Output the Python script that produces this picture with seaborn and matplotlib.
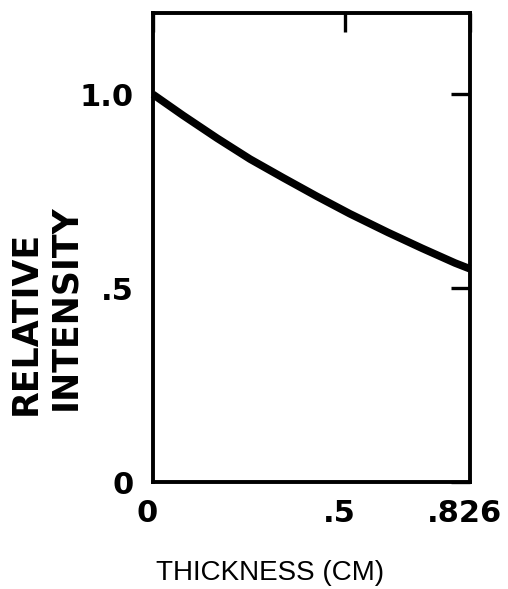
import matplotlib
matplotlib.use("Agg")
import matplotlib.pyplot as plt
import matplotlib.transforms as mtransforms
import seaborn as sns
import pandas as pd

# Transmitted intensity through the absorber versus its thickness
thickness_cm = [0.0, 0.078, 0.167, 0.253, 0.339, 0.427, 0.513, 0.612, 0.701, 0.787, 0.818, 0.826]
relative_intensity = [1.0, 0.946, 0.887, 0.833, 0.785, 0.737, 0.692, 0.644, 0.603, 0.565, 0.553, 0.550]

x_ticks = [0.0, 0.5, 0.826]
x_tick_labels = ["0", ".5", ".826"]
y_ticks = [0.0, 0.5, 1.0]
y_tick_labels = ["0", ".5", "1.0"]

sns.set_style("white")
plt.rcParams["font.family"] = ["Liberation Sans", "DejaVu Sans"]
plt.rcParams["text.color"] = "black"

df = pd.DataFrame({"thickness": thickness_cm, "intensity": relative_intensity})

fig = plt.figure(figsize=(5.08, 5.89), dpi=100)
ax = fig.add_axes([153 / 508, 1 - 482 / 589, (470 - 153) / 508, (482 - 13) / 589])

sns.lineplot(data=df, x="thickness", y="intensity", ax=ax, color="black",
             linewidth=5.5, solid_capstyle="butt", solid_joinstyle="round",
             clip_on=False)

tick_font = {"family": "DejaVu Sans", "weight": "bold", "size": 22}
ax.set_xlim(0, 0.826)
ax.set_ylim(0, 1.21)
ax.set_xticks(x_ticks)
ax.set_xticklabels(x_tick_labels, fontdict=tick_font)
ax.set_yticks(y_ticks)
ax.set_yticklabels(y_tick_labels, fontdict=tick_font)
ax.tick_params(axis="both", direction="in", length=14, width=2.4,
               top=True, right=True, colors="black")
ax.tick_params(axis="x", pad=12)
ax.tick_params(axis="y", pad=14)
ax.set_xlabel("")
ax.set_ylabel("")

# nudge the bottom labels slightly left, as lettered
shift = mtransforms.ScaledTranslation(-6 / 100, 0, fig.dpi_scale_trans)
for lbl in ax.get_xticklabels():
    lbl.set_transform(lbl.get_transform() + shift)

for side in ["left", "right", "top", "bottom"]:
    ax.spines[side].set_visible(True)
    ax.spines[side].set_color("black")
    ax.spines[side].set_linewidth(2.8)

fig.text(26 / 508, 1 - 323 / 589, "RELATIVE", rotation=90, ha="center", va="center",
         fontsize=25, fontweight="bold", family="DejaVu Sans", color="black")
fig.text(65 / 508, 1 - 307 / 589, "INTENSITY", rotation=90, ha="center", va="center",
         fontsize=25, fontweight="bold", family="DejaVu Sans", color="black")
fig.text(270 / 508, 1 - 573 / 589, "THICKNESS (CM)", ha="center", va="center",
         fontsize=20, color="black")

fig.savefig("out.png", dpi=100, facecolor="white")
